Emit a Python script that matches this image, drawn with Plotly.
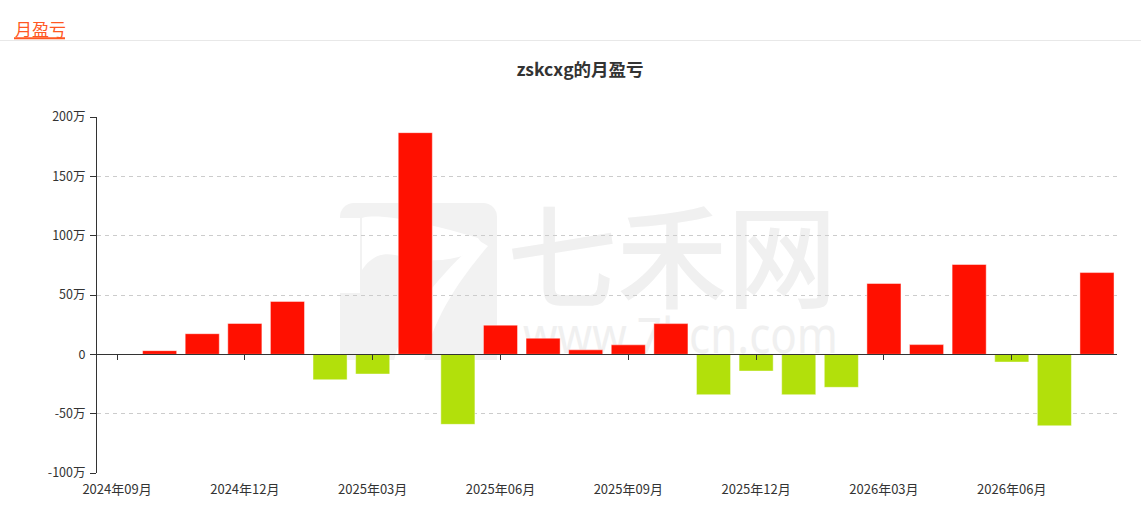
import base64
import plotly.graph_objects as go

# ---------------- data ----------------
months = ["2024-09", "2024-10", "2024-11", "2024-12", "2025-01", "2025-02",
          "2025-03", "2025-04", "2025-05", "2025-06", "2025-07", "2025-08",
          "2025-09", "2025-10", "2025-11", "2025-12", "2026-01", "2026-02",
          "2026-03", "2026-04", "2026-05", "2026-06", "2026-07", "2026-08"]
# monthly profit / loss, unit: 万
pnl = [None, 3.1, 17.4, 26.0, 44.6, -21.4,
       -16.6, 186.8, -59.0, 24.6, 13.6, 3.8,
       8.0, 25.9, -34.0, -14.1, -34.0, -27.8,
       59.7, 8.2, 75.7, -6.5, -60.2, 68.9]
tick_idx = [0, 3, 6, 9, 12, 15, 18, 21]
tick_text = ["2024年09月", "2024年12月", "2025年03月", "2025年06月",
             "2025年09月", "2025年12月", "2026年03月", "2026年06月"]
y_ticks = [-100, -50, 0, 50, 100, 150, 200]
y_tick_text = ["-100万", "-50万", "0", "50万", "100万", "150万", "200万"]

RED = "#ff1000"
GREEN = "#b2e00b"
colors = [RED if (v is not None and v >= 0) else GREEN for v in pnl]
xs = list(range(len(months)))

W, H = 1141, 511
L, R, T, B = 97, 24, 117, 38
PW, PH = W - L - R, H - T - B


def px2paper_x(px):
    return (px - L) / PW


def px2paper_y(py):
    return (H - B - py) / PH


fig = go.Figure()
fig.add_trace(go.Bar(
    x=xs, y=pnl, width=0.8,
    marker=dict(color=colors, line=dict(color="rgba(255,255,255,0.45)", width=1)),
    customdata=months,
    hovertemplate="%{customdata}: %{y}万<extra></extra>",
    xaxis="x", yaxis="y", showlegend=False,
))
# invisible helper trace so the bottom label axis is drawn
fig.add_trace(go.Scatter(x=[xs[0]], y=[0], mode="markers", marker=dict(opacity=0),
                         xaxis="x2", yaxis="y", showlegend=False, hoverinfo="skip"))

xrange = [-0.47, len(months) - 1 + 0.47]

# watermark (SVG image behind the plot)
svg = """<svg xmlns='http://www.w3.org/2000/svg' width='505' height='160' viewBox='0 0 505 160'>
<rect x='5' y='3' width='157' height='175' rx='14' fill='#f2f2f2'/>
<rect x='5' y='18' width='20' height='75' fill='#ffffff'/>
<path d='M 27 18 C 45 12, 100 25, 143 38 L 148 45 C 120 65, 90 62, 60 55 C 45 52, 35 58, 27 70 Z' fill='#ffffff'/>
<path d='M 143 40 L 153 46 C 120 85, 98 120, 88 165 L 58 165 C 68 118, 100 80, 143 40 Z' fill='#ffffff'/>
<text x='172' y='100' font-family='Noto Sans CJK SC' font-weight='500' font-size='112' fill='#f0f0f0' textLength='330' lengthAdjust='spacingAndGlyphs'>七禾网</text>
<text x='188' y='153' font-family='Noto Sans' font-size='50' fill='#f0f0f0' textLength='315' lengthAdjust='spacingAndGlyphs'>www.7hcn.com</text>
</svg>"""
svg_uri = "data:image/svg+xml;base64," + base64.b64encode(svg.encode("utf-8")).decode()

fig.update_layout(
    width=W, height=H,
    margin=dict(l=L, r=R, t=T, b=B, pad=0),
    paper_bgcolor="white",
    plot_bgcolor="rgba(0,0,0,0)",
    font=dict(family="Noto Sans CJK SC, Noto Sans, sans-serif", color="#333333", size=12),
    bargap=0.2,
    title=dict(text="<b>zskcxg的月盈亏</b>", x=580 / W, xanchor="center",
               xref="container", yref="container", y=1 - 70 / H, yanchor="middle",
               font=dict(size=17.5, color="#333333",
                         family="Noto Sans CJK SC, sans-serif")),
    xaxis=dict(
        range=xrange, anchor="free", position=1 / 3,
        showline=True, linecolor="#333333", linewidth=1,
        ticks="outside", ticklen=5, tickcolor="#333333",
        tickmode="array", tickvals=tick_idx, showticklabels=False,
        showgrid=False, zeroline=False, fixedrange=True,
    ),
    xaxis2=dict(
        range=xrange, overlaying="x", anchor="y", side="bottom",
        showline=False, ticks="outside", ticklen=4, tickcolor="rgba(0,0,0,0)",
        tickmode="array", tickvals=tick_idx,
        ticktext=tick_text, showgrid=False, zeroline=False,
        tickfont=dict(size=13, color="#333333"), fixedrange=True,
    ),
    yaxis=dict(
        range=[-100, 200], tickmode="array", tickvals=y_ticks, ticktext=y_tick_text,
        showline=True, linecolor="#333333", linewidth=1,
        ticks="outside", ticklen=6, tickcolor="#333333",
        showgrid=True, gridcolor="#cccccc", gridwidth=1, griddash="4px,4px",
        zeroline=False, tickfont=dict(size=12.5, color="#333333"),
        ticklabelstandoff=2, fixedrange=True,
    ),
    images=[dict(source=svg_uri, xref="paper", yref="paper",
                 x=px2paper_x(335), y=px2paper_y(200),
                 sizex=505 / PW, sizey=160 / PH,
                 xanchor="left", yanchor="top", sizing="stretch", layer="below")],
    annotations=[dict(text="月盈亏", xref="paper", yref="paper",
                      x=px2paper_x(13), y=px2paper_y(28), xanchor="left", yanchor="middle",
                      showarrow=False,
                      font=dict(size=17, color="#ff5722", family="Noto Sans CJK SC, sans-serif"))],
    shapes=[
        dict(type="line", xref="paper", yref="paper",
             x0=px2paper_x(0), x1=px2paper_x(W), y0=px2paper_y(40.5), y1=px2paper_y(40.5),
             line=dict(color="#e8e8e8", width=1)),
        dict(type="line", xref="paper", yref="paper",
             x0=px2paper_x(14), x1=px2paper_x(65), y0=px2paper_y(38.3), y1=px2paper_y(38.3),
             line=dict(color="#ff5722", width=2)),
    ],
)

fig.write_html("out.html", config={"displayModeBar": False},
               post_script="document.body.style.margin='0';")
